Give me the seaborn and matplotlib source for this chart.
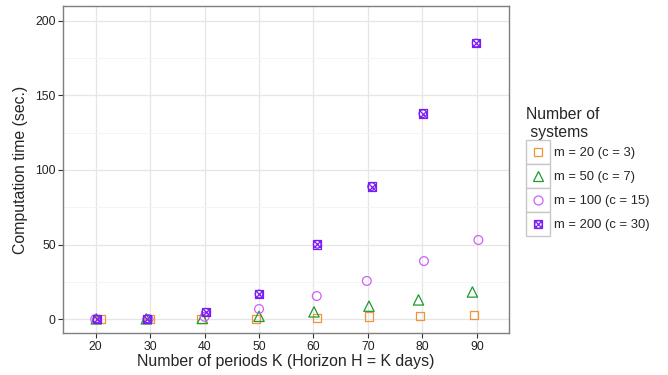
import numpy as np
import pandas as pd
import matplotlib
matplotlib.use("Agg")
import matplotlib.pyplot as plt
from matplotlib.lines import Line2D
from matplotlib.patches import Rectangle
from matplotlib.legend_handler import HandlerBase
from matplotlib.ticker import MultipleLocator
import seaborn as sns

# ---------------------------------------------------------------------
# Données (x légèrement décalés comme dans l'original)
# ---------------------------------------------------------------------
x_m20 = [20.9, 29.9, 39.4, 49.4, 60.7, 70.2, 79.6, 89.5]
y_m20 = [0.0, 0.0, 0.2, 0.3, 0.7, 1.8, 2.4, 3.1]

x_m50 = [20.1, 29.3, 39.6, 50.0, 60.1, 70.2, 79.3, 89.2]
y_m50 = [0.3, 0.3, 0.6, 2.0, 5.0, 8.8, 13.0, 18.3]

x_m100 = [19.9, 29.7, 40.0, 50.0, 60.6, 69.8, 80.3, 90.3]
y_m100 = [0.1, 0.1, 1.7, 6.9, 15.6, 25.7, 39.0, 53.1]

x_m200 = [20.2, 29.4, 40.2, 50.0, 60.7, 70.7, 80.1, 89.9]
y_m200 = [0.2, 0.3, 4.7, 16.9, 50.2, 88.9, 137.7, 184.9]

labels = ["m = 20 (c = 3)", "m = 50 (c = 7)", "m = 100 (c = 15)", "m = 200 (c = 30)"]
colors = ["#F0943A", "#1E9A2E", "#D060F5", "#7A1CF5"]

x_ticks = [20, 30, 40, 50, 60, 70, 80, 90]
y_ticks = [0, 50, 100, 150, 200]

# ---------------------------------------------------------------------
# Style
# ---------------------------------------------------------------------
sns.set_theme(style="white")
plt.rcParams["font.family"] = ["Liberation Sans", "DejaVu Sans"]

fig = plt.figure(figsize=(6.68, 3.75), dpi=100)
ax = fig.add_axes([0.0948, 0.111, 0.667, 0.874])

ax.set_xlim(14.05, 95.9)
ax.set_ylim(-9.4, 210)
ax.set_xticks(x_ticks)
ax.set_yticks(y_ticks)
ax.yaxis.set_minor_locator(MultipleLocator(25))
ax.grid(True, which="major", color="#E6E6E6", linewidth=0.9)
ax.grid(True, which="minor", axis="y", color="#F4F4F4", linewidth=0.7)
ax.set_axisbelow(True)
for sp in ax.spines.values():
    sp.set_color("#7F7F7F")
    sp.set_linewidth(1.0)
ax.tick_params(axis="both", which="major", direction="out", length=3.5,
               width=0.8, color="#333333", labelsize=8.8, labelcolor="#222222",
               bottom=True, left=True, pad=2)
ax.tick_params(axis="both", which="minor", length=0)

kw = dict(facecolor="none", linewidth=0.9, ax=ax, legend=False, zorder=3)
sns.scatterplot(x=x_m20, y=y_m20, marker="s", s=36, edgecolor=colors[0], **kw)
sns.scatterplot(x=x_m50, y=y_m50, marker="^", s=55, edgecolor=colors[1], **kw)
sns.scatterplot(x=x_m100, y=y_m100, marker="o", s=40, edgecolor=colors[2], **kw)
sns.scatterplot(x=x_m200, y=y_m200, marker="s", s=36, edgecolor=colors[3], **kw)
sns.scatterplot(x=x_m200, y=y_m200, marker="o", s=30, edgecolor=colors[3], **kw)
ax.scatter(x_m200, y_m200, marker="x", s=26, color=colors[3], linewidth=0.9, zorder=3)

ax.set_xlabel("Number of periods K (Horizon H = K days)", fontsize=11.4, labelpad=1)
ax.set_ylabel("Computation time (sec.)", fontsize=11.4, labelpad=5)


# ---------------------------------------------------------------------
# Légende (cases grises façon ggplot)
# ---------------------------------------------------------------------
class KeyHandler(HandlerBase):
    """Case blanche bordée de gris + symboles superposés au centre."""

    def create_artists(self, legend, orig_handle, xdescent, ydescent,
                       width, height, fontsize, trans):
        rect = Rectangle((-xdescent, -ydescent), width, height,
                         facecolor="white", edgecolor="#C8C8C8",
                         linewidth=1.0, transform=trans)
        cx, cy = -xdescent + width / 2, -ydescent + height / 2
        arts = [rect]
        for marker, color, size in orig_handle.specs:
            arts.append(Line2D([cx], [cy], marker=marker, markersize=size,
                               markerfacecolor="none", markeredgecolor=color,
                               markeredgewidth=0.9, linestyle="",
                               transform=trans))
        return arts


class Key:
    def __init__(self, *specs):
        self.specs = specs


handles = [
    Key(("s", colors[0], 6.2)),
    Key(("^", colors[1], 7.5)),
    Key(("o", colors[2], 6.5)),
    Key(("s", colors[3], 6.0), ("o", colors[3], 5.5), ("x", colors[3], 5.0)),
]
leg = fig.legend(handles, labels, title="Number of\n systems",
                 handler_map={Key: KeyHandler()},
                 loc="center left", bbox_to_anchor=(0.778, 0.543),
                 frameon=False, fontsize=9.4, title_fontsize=11.3,
                 handlelength=1.8, handleheight=2.45, labelspacing=0.0,
                 handletextpad=0.3, borderpad=0, alignment="left")

fig.savefig("out.png", dpi=100)
